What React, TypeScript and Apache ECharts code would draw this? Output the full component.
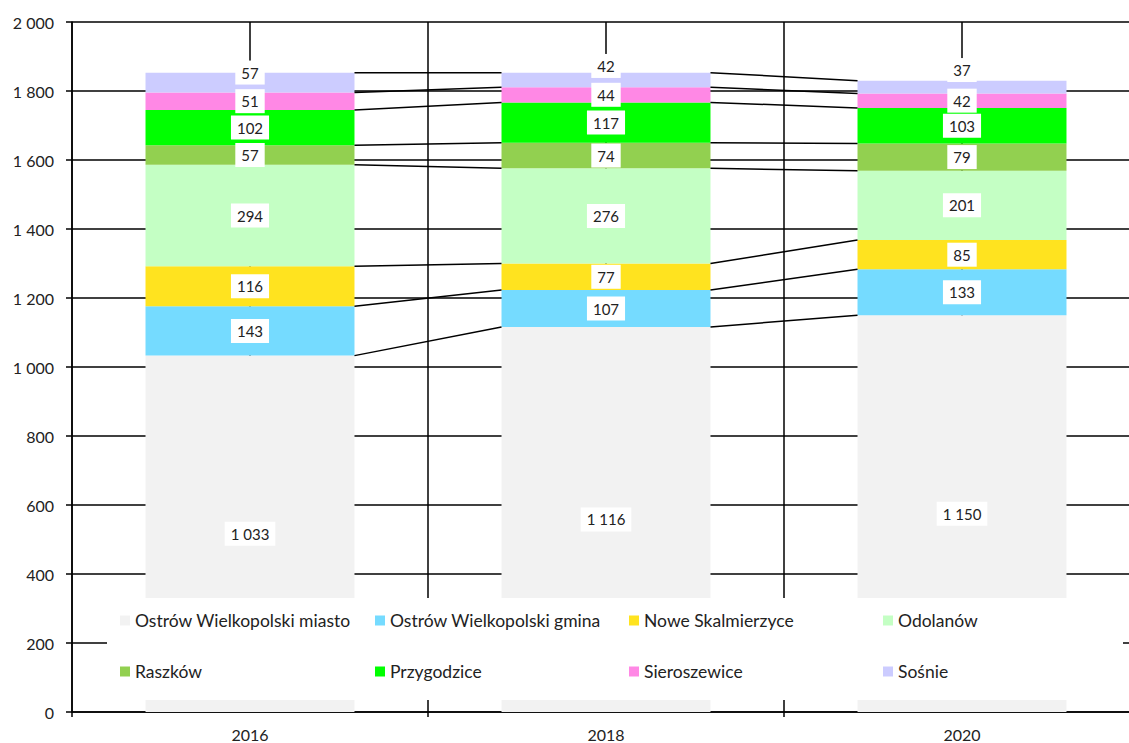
import React, { useEffect, useRef } from "react";
import * as echarts from "echarts";

const categories = ["2016", "2018", "2020"];
const seriesNames = [
  "Ostrów Wielkopolski miasto",
  "Ostrów Wielkopolski gmina",
  "Nowe Skalmierzyce",
  "Odolanów",
  "Raszków",
  "Przygodzice",
  "Sieroszewice",
  "Sośnie",
];
const ostrowMiasto = [1033, 1116, 1150];
const ostrowGmina = [143, 107, 133];
const noweSkalmierzyce = [116, 77, 85];
const odolanow = [294, 276, 201];
const raszkow = [57, 74, 79];
const przygodzice = [102, 117, 103];
const sieroszewice = [51, 44, 42];
const sosnie = [57, 42, 37];
const seriesValues = [
  ostrowMiasto,
  ostrowGmina,
  noweSkalmierzyce,
  odolanow,
  raszkow,
  przygodzice,
  sieroszewice,
  sosnie,
];
const colors = [
  "#F2F2F2",
  "#75DBFF",
  "#FFE31F",
  "#C4FFC4",
  "#92D050",
  "#00FF00",
  "#FF88E5",
  "#CCCCFF",
];
const yTicks = { min: 0, max: 2000, interval: 200 };

const FONT = "Lato";
const TXT = "#222";
const BAR_RATIO = 0.587;
const topLabelShift = [-10, -14, -17];
const CHART_W = 1140;
const CHART_H = 743;

const fmt = (v: number) =>
  String(Math.round(v)).replace(/\B(?=(\d{3})+(?!\d))/g, " ");

export default function App() {
  const ref = useRef<HTMLDivElement>(null);
  useEffect(() => {
    if (!ref.current) return;
    const chart = echarts.init(ref.current, null, { renderer: "svg" });

    const cum = categories.map((_, i) => {
      let s = 0;
      return seriesValues.map((arr) => (s += arr[i]));
    });

    const barSeries = seriesNames.map((name, k) => ({
      name,
      type: "bar",
      stack: "total",
      barWidth: BAR_RATIO * 100 + "%",
      z: 2,
      itemStyle: { color: colors[k] },
      label: {
        show: true,
        position: "inside",
        formatter: (p: any) => fmt(p.value),
        backgroundColor: "#fff",
        padding: [5, 6, 4, 6],
        color: TXT,
        fontSize: 15,
        fontFamily: FONT,
      },
      data: seriesValues[k].map((v, i) =>
        k === seriesValues.length - 1
          ? { value: v, label: { offset: [0, topLabelShift[i]] } }
          : v
      ),
    }));

    const colX = [120, 375, 629, 883];
    const rowY = [621.5, 672.5];
    const legends = seriesNames.map((name, k) => ({
      data: [name],
      left: colX[k % 4],
      top: rowY[Math.floor(k / 4)] - 10,
      padding: 0,
      itemWidth: 10,
      itemHeight: 10,
      icon: "rect",
      selectedMode: false,
      z: 20,
      textStyle: { fontSize: 17.5, color: TXT, fontFamily: FONT },
    }));

    const option: any = {
      animation: false,
      textStyle: { fontFamily: FONT },
      grid: { left: 72, right: 0, top: 22, bottom: 31 },
      legend: legends,
      xAxis: {
        type: "category",
        data: categories,
        axisLine: { lineStyle: { color: "#000", width: 1.5 } },
        axisTick: { show: true, length: 5, lineStyle: { color: "#000", width: 1.5 } },
        axisLabel: { fontSize: 16, color: TXT, margin: 14, fontFamily: FONT },
        splitLine: { show: true, interval: 0, lineStyle: { color: "#000", width: 1.5 } },
      },
      yAxis: {
        type: "value",
        min: yTicks.min,
        max: yTicks.max,
        interval: yTicks.interval,
        axisLine: { show: true, lineStyle: { color: "#000", width: 1.5 } },
        axisTick: { show: true, length: 6, lineStyle: { color: "#000", width: 1.5 } },
        axisLabel: { formatter: fmt, fontSize: 16, color: TXT, margin: 18, fontFamily: FONT },
        splitLine: { show: true, lineStyle: { color: "#000", width: 1.5 } },
      },
      graphic: [
        {
          type: "rect",
          z: 10,
          shape: { x: 107, y: 598, width: 1016, height: 102 },
          style: { fill: "#fff" },
        },
      ],
      series: [
        {
          type: "custom",
          name: "centerLines",
          z: 1,
          silent: true,
          data: categories.map((_, i) => [i, 0]),
          encode: { x: 0, y: 1 },
          renderItem: (params: any, api: any) => {
            const i = api.value(0);
            const a = api.coord([i, yTicks.max]);
            const b = api.coord([i, yTicks.min]);
            return {
              type: "line",
              shape: { x1: a[0], y1: a[1], x2: b[0], y2: b[1] },
              style: { stroke: "#000", lineWidth: 1.5 },
            };
          },
        },
        ...barSeries,
        {
          type: "custom",
          name: "seriesLines",
          z: 3,
          silent: true,
          data: categories.slice(0, -1).map((_, i) => [i, 0]),
          encode: { x: 0, y: 1 },
          renderItem: (params: any, api: any) => {
            const i = api.value(0);
            const half = (api.size([1, 0])[0] * BAR_RATIO) / 2;
            const children = cum[i].map((_, k) => {
              const a = api.coord([i, cum[i][k]]);
              const b = api.coord([i + 1, cum[i + 1][k]]);
              return {
                type: "line",
                shape: { x1: a[0] + half, y1: a[1], x2: b[0] - half, y2: b[1] },
                style: { stroke: "#000", lineWidth: 1.5 },
              };
            });
            return { type: "group", children };
          },
        },
      ],
    };
    chart.setOption(option);
    return () => chart.dispose();
  }, []);
  return (
    <div
      style={{
        position: "absolute",
        left: 0,
        top: 0,
        width: 1129,
        height: 743,
        overflow: "hidden",
      }}
    >
      <div ref={ref} style={{ width: CHART_W, height: CHART_H }} />
    </div>
  );
}
